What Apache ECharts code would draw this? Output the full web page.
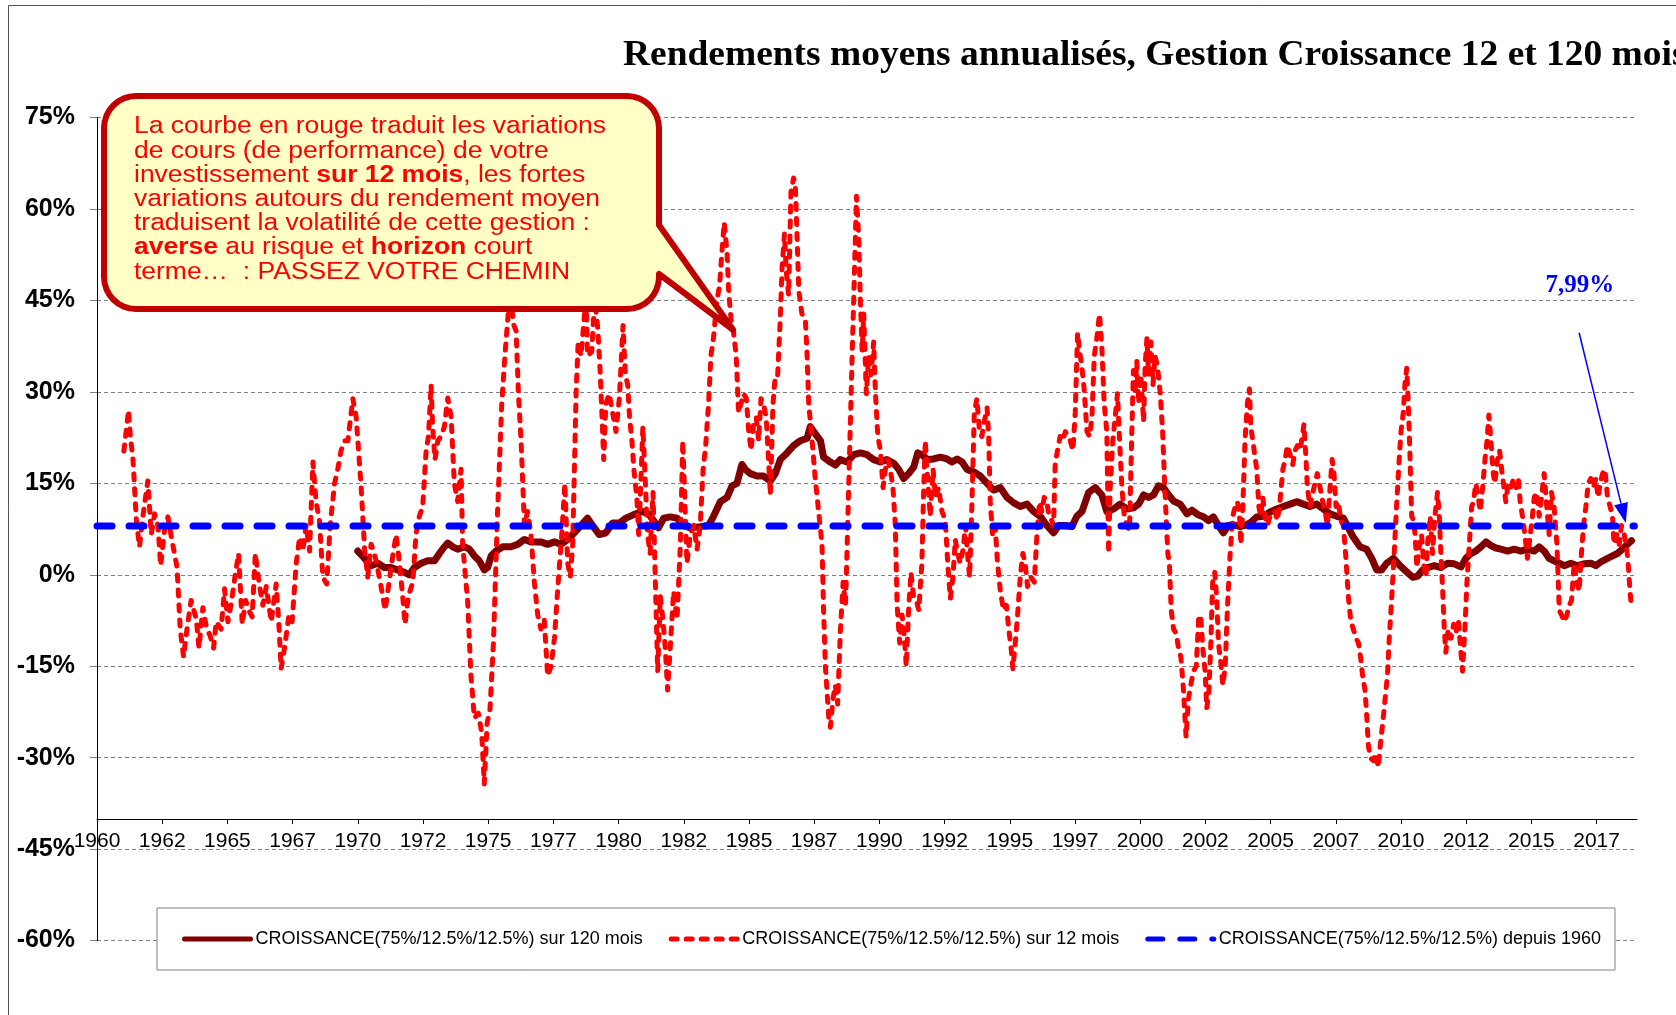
<!DOCTYPE html>
<html>
<head>
<meta charset="utf-8">
<title>Rendements moyens annualisés</title>
<script src="https://cdn.jsdelivr.net/npm/echarts@6/dist/echarts.min.js"></script>
<style>
  html, body { margin: 0; padding: 0; background: #fff; }
  #chart { width: 1676px; height: 1015px; }
</style>
</head>
<body>
<div id="chart"></div>
<script>
// rendement annualisé glissant sur 120 mois (%), [année, valeur]
const roll120 = [
  [1970.0,3.9],[1970.26,2.7],[1970.51,1.5],[1970.77,1.9],[1971.02,1.2],[1971.28,1.2],[1971.53,0.8],[1971.79,0.4],[1971.98,0],
  [1972.17,1.2],[1972.43,1.9],[1972.68,2.3],[1972.94,2.3],[1973.13,3.5],[1973.32,4.6],[1973.45,5.2],[1973.64,4.6],[1973.83,4.2],
  [1974.09,4.6],[1974.28,4.2],[1974.47,3.1],[1974.66,2.3],[1974.85,0.8],[1974.98,1.2],[1975.11,3.1],[1975.30,3.9],[1975.56,4.6],
  [1975.87,4.6],[1976.13,5],[1976.39,5.8],[1976.64,5.4],[1977.02,5.4],[1977.28,5],[1977.54,5.4],[1977.79,5],[1978.05,5.8],
  [1978.30,6.9],[1978.56,8.1],[1978.81,9.3],[1979.0,8.1],[1979.26,6.6],[1979.51,6.9],[1979.77,8.5],[1980.03,8.5],[1980.28,9.3],
  [1980.54,9.8],[1980.90,10.4],[1981.15,10],[1981.34,8.9],[1981.53,7.7],[1981.73,9.3],[1981.98,9.5],[1982.24,9.3],[1982.49,8.1],
  [1982.75,7.7],[1983.13,7.9],[1983.45,8.1],[1983.64,9.6],[1983.90,12],[1984.16,12.7],[1984.35,14.6],[1984.54,15],[1984.73,18.1],
  [1984.86,17.3],[1985.05,16.6],[1985.31,16.2],[1985.56,16.2],[1985.82,15.4],[1986.01,16.6],[1986.20,18.9],[1986.46,20],
  [1986.71,21.2],[1986.97,22],[1987.23,22.4],[1987.35,24.3],[1987.48,23.5],[1987.74,22],[1987.86,19.3],[1988.12,18.5],
  [1988.31,18],[1988.50,18.9],[1988.76,18.5],[1989.02,19.7],[1989.27,20],[1989.53,19.7],[1989.78,18.9],[1990.04,18.5],
  [1990.29,18.9],[1990.55,18.3],[1990.74,17.3],[1990.93,15.8],[1991.12,16.6],[1991.32,17.7],[1991.47,20],[1991.63,19.7],
  [1991.83,18.9],[1992.08,19],[1992.34,19.3],[1992.59,19],[1992.78,18.5],[1992.98,19],[1993.17,18.5],[1993.36,17.3],
  [1993.61,16.9],[1993.87,16.2],[1994.13,15],[1994.38,13.9],[1994.64,14.3],[1994.89,12.7],[1995.15,11.8],[1995.40,11.2],
  [1995.66,11.6],[1995.91,10.4],[1996.17,9.6],[1996.42,8.1],[1996.68,6.9],[1996.87,8.1],[1997.13,8.1],[1997.38,7.9],
  [1997.57,9.6],[1997.77,10.4],[1998.02,13.5],[1998.28,14.3],[1998.53,13.1],[1998.72,10.4],[1998.98,10.8],[1999.23,11.6],
  [1999.49,10.8],[1999.74,11],[1999.94,11.6],[2000.13,13.1],[2000.32,12.7],[2000.51,13.1],[2000.70,14.6],[2000.89,14.3],
  [2001.09,13.1],[2001.28,12.1],[2001.53,11.6],[2001.79,10],[2001.98,10.6],[2002.24,9.8],[2002.43,9.5],[2002.62,8.9],
  [2002.81,9.5],[2003.0,8.1],[2003.19,6.9],[2003.38,8.1],[2003.58,8.2],[2003.83,7.9],[2004.02,8.1],[2004.21,8.5],
  [2004.47,9.5],[2004.73,9.6],[2004.98,10.3],[2005.24,10.8],[2005.49,11.2],[2005.75,11.6],[2006.0,12],[2006.26,11.6],
  [2006.51,11.2],[2006.77,11.6],[2007.02,10.8],[2007.28,10],[2007.54,9.6],[2007.79,9.3],[2007.98,7.7],[2008.17,6.2],
  [2008.43,4.6],[2008.68,4.2],[2008.88,2.7],[2009.07,0.8],[2009.26,0.8],[2009.45,1.9],[2009.71,2.7],[2009.96,1.5],
  [2010.22,0.5],[2010.45,-0.4],[2010.64,-0.2],[2010.83,0.8],[2011.02,1.2],[2011.28,1.5],[2011.53,1.2],[2011.79,1.9],
  [2012.04,1.8],[2012.30,1.3],[2012.49,2.7],[2012.68,3.5],[2012.87,3.9],[2013.07,4.6],[2013.26,5.4],[2013.45,4.8],
  [2013.64,4.4],[2013.83,4.2],[2014.09,3.9],[2014.34,4.2],[2014.60,3.9],[2014.85,4.2],[2015.11,3.9],[2015.30,4.6],
  [2015.49,3.9],[2015.68,2.7],[2015.87,2.3],[2016.07,1.9],[2016.26,1.5],[2016.51,1.9],[2016.77,1.5],[2017.02,1.8],
  [2017.28,1.9],[2017.47,1.5],[2017.66,2.1],[2017.92,2.7],[2018.11,3.1],[2018.30,3.5],[2018.49,4.2],[2018.68,5],[2018.84,5.6]
];

// rendement sur 12 mois glissants (%), [année, valeur]
const roll12 = [
  [1961.03,20.3],[1961.21,27],[1961.28,22.7],[1961.38,18.9],[1961.51,8.9],[1961.63,4.6],[1961.76,9.6],[1961.95,15.4],
  [1962.08,6.6],[1962.21,10],[1962.34,8],[1962.44,1.5],[1962.59,7.3],[1962.72,9.5],[1962.85,6.2],[1963.07,1.2],[1963.19,-8.9],
  [1963.32,-13.5],[1963.45,-8.9],[1963.61,-4.2],[1963.81,-7.3],[1963.91,-12],[1964.06,-5.4],[1964.21,-8.9],[1964.34,-10],
  [1964.47,-12],[1964.57,-7.7],[1964.76,-8.9],[1964.89,-2.3],[1965.02,-7.7],[1965.15,-4.6],[1965.30,0],[1965.43,3.5],
  [1965.57,-8.1],[1965.70,-4.2],[1965.82,-5.8],[1965.95,-6.9],[1966.07,3.5],[1966.21,-1.2],[1966.36,-5],[1966.49,-1.9],
  [1966.68,-7.7],[1966.87,-1.5],[1966.97,-7.7],[1967.06,-15.4],[1967.19,-12],[1967.36,-6.6],[1967.48,-7.7],[1967.64,1.9],
  [1967.77,6.2],[1967.89,3.9],[1968.02,8.1],[1968.15,3.9],[1968.28,18.5],[1968.40,12],[1968.53,8.9],[1968.66,-0.4],
  [1968.81,-1.5],[1968.94,8.1],[1969.11,15],[1969.23,17.3],[1969.36,20.4],[1969.49,22],[1969.62,22],[1969.81,28.9],
  [1969.94,25.8],[1970.13,14.3],[1970.26,4.2],[1970.38,-0.4],[1970.51,5],[1970.64,3.5],[1970.77,0.8],[1970.89,-1.9],
  [1971.05,-5.8],[1971.15,-2.7],[1971.34,3.1],[1971.47,6.6],[1971.60,1.9],[1971.72,-3.5],[1971.81,-8.1],[1971.94,-3.5],
  [1972.11,-1.2],[1972.23,6.6],[1972.36,9.6],[1972.49,11.2],[1972.62,20.4],[1972.71,22.7],[1972.81,31.2],[1972.87,24.3],
  [1972.96,18.9],[1973.07,22],[1973.19,22.7],[1973.32,24.3],[1973.45,29],[1973.58,25.8],[1973.70,15],[1973.83,12],
  [1973.96,17.3],[1974.02,5],[1974.21,-4.2],[1974.34,-16.6],[1974.47,-23.5],[1974.62,-22.7],[1974.75,-25.8],[1974.85,-34.3],
  [1974.96,-24.3],[1975.07,-22],[1975.20,-11.2],[1975.36,10.4],[1975.52,28],[1975.64,35.9],[1975.77,43],[1975.87,45],
  [1975.98,41],[1976.07,40],[1976.16,29.7],[1976.26,22],[1976.39,8.1],[1976.51,10.4],[1976.64,6.6],[1976.77,-1.2],
  [1976.90,-6.6],[1977.02,-8.9],[1977.15,-7.3],[1977.28,-16.6],[1977.41,-15],[1977.54,-10.4],[1977.66,-2.7],[1977.82,6.6],
  [1977.94,15],[1978.05,1.9],[1978.15,-0.4],[1978.24,5],[1978.37,29.7],[1978.45,38.2],[1978.56,35.9],[1978.68,42],
  [1978.75,46],[1978.81,35.9],[1978.97,36.6],[1979.04,42],[1979.09,45],[1979.20,40.5],[1979.30,32.8],[1979.43,18.9],
  [1979.51,28],[1979.64,29.7],[1979.77,26.6],[1979.90,23.5],[1980.03,29],[1980.17,40.9],[1980.26,32.8],[1980.35,31.2],
  [1980.42,25.8],[1980.51,22],[1980.60,16.6],[1980.70,12.7],[1980.77,6.6],[1980.86,15.8],[1980.93,24.3],[1981.02,15.8],
  [1981.11,6.6],[1981.21,3.5],[1981.32,13.5],[1981.41,-1.2],[1981.50,-15.8],[1981.60,-3.5],[1981.70,-7.3],[1981.79,-12],
  [1981.88,-18.9],[1981.98,-12],[1982.11,-2.7],[1982.24,-7.3],[1982.37,5],[1982.46,22],[1982.53,13.5],[1982.62,1.9],
  [1982.75,6.6],[1982.88,8.1],[1983.01,4.2],[1983.13,8.1],[1983.24,17.3],[1983.34,21.2],[1983.45,28.1],[1983.54,35.9],
  [1983.64,38.9],[1983.77,45],[1983.87,47.4],[1983.96,52.8],[1984.05,57.8],[1984.16,52.8],[1984.22,46.6],[1984.31,42],
  [1984.41,39.7],[1984.51,35.9],[1984.60,26.6],[1984.69,28],[1984.80,29.7],[1984.90,28.9],[1984.99,23.5],[1985.08,20.4],
  [1985.18,25],[1985.28,25.8],[1985.37,22],[1985.46,28.9],[1985.56,28],[1985.66,25.8],[1985.75,18.9],[1985.82,13.1],
  [1985.92,28],[1986.01,32.8],[1986.10,32.8],[1986.20,42],[1986.27,50.5],[1986.36,55.9],[1986.43,49.7],[1986.52,45.9],
  [1986.61,62.8],[1986.71,65.1],[1986.78,63.6],[1986.84,55.9],[1986.91,46.6],[1987.03,42.8],[1987.16,42],[1987.23,35.9],
  [1987.29,28.1],[1987.42,22],[1987.54,15.8],[1987.67,10.4],[1987.80,5],[1987.86,-5.8],[1987.93,-15],[1987.99,-18.9],
  [1988.06,-23.5],[1988.12,-25],[1988.22,-20.4],[1988.31,-18.1],[1988.40,-21.2],[1988.50,-9.6],[1988.61,-1.2],[1988.70,-5],
  [1988.76,4.2],[1988.86,20.4],[1988.95,35.1],[1989.04,49],[1989.12,62.1],[1989.21,55.1],[1989.27,45.1],[1989.34,36.6],
  [1989.40,42.8],[1989.50,29.7],[1989.59,35.9],[1989.68,32.8],[1989.78,38.2],[1989.85,29.7],[1989.94,22.7],[1990.04,20.4],
  [1990.14,14.3],[1990.23,17.3],[1990.32,18.9],[1990.42,17.3],[1990.52,14.3],[1990.61,8.1],[1990.68,-5],[1990.78,-11.2],
  [1990.87,-6.6],[1990.96,-10.4],[1991.03,-15],[1991.12,-5.8],[1991.21,0.4],[1991.31,-3.5],[1991.42,-4.2],[1991.51,-5.8],
  [1991.63,1.9],[1991.70,14.3],[1991.76,22],[1991.85,15.8],[1991.95,9.6],[1992.06,17.3],[1992.15,12.7],[1992.27,14.3],
  [1992.40,10.4],[1992.53,8.9],[1992.62,1.9],[1992.72,-3.9],[1992.82,-0.4],[1992.91,5.8],[1993.00,3.5],[1993.10,1.9],
  [1993.21,4.2],[1993.30,8.1],[1993.38,3.5],[1993.46,-0.4],[1993.55,12],[1993.64,26.6],[1993.74,28.9],[1993.84,23.5],
  [1993.93,22.7],[1994.02,25.1],[1994.13,27.4],[1994.19,22.7],[1994.25,12],[1994.34,6.6],[1994.44,8.1],[1994.53,1.9],
  [1994.64,-2.7],[1994.76,-5.8],[1994.87,-5],[1994.96,-8.9],[1995.05,-12],[1995.12,-15.4],[1995.21,-11.2],[1995.30,-6.6],
  [1995.40,-0.4],[1995.50,3.5],[1995.59,1.9],[1995.68,-1.9],[1995.81,-0.4],[1995.94,-1.2],[1996.04,6.6],[1996.14,12],
  [1996.23,10.4],[1996.32,12.7],[1996.42,12],[1996.51,9.6],[1996.61,8.9],[1996.68,8.1],[1996.74,18.1],[1996.83,20.4],
  [1996.93,22.7],[1997.04,22],[1997.13,23.5],[1997.22,22.7],[1997.32,22],[1997.42,20.4],[1997.51,26.6],[1997.60,39.7],
  [1997.68,36.6],[1997.76,34.3],[1997.85,30.5],[1997.96,23.5],[1998.06,22.7],[1998.15,25.8],[1998.24,35.9],[1998.34,38.9],
  [1998.44,42.8],[1998.53,37.4],[1998.62,28.1],[1998.72,23.5],[1998.79,3.5],[1998.85,14.3],[1998.95,22],[1999.04,25.8],
  [1999.13,29.7],[1999.21,22],[1999.30,14.3],[1999.39,9.6],[1999.49,8.1],[1999.59,7.3],[1999.68,23.5],[1999.74,33.5],
  [1999.80,29.7],[1999.87,35.1],[1999.94,28.1],[2000.03,32.8],[2000.13,25.1],[2000.19,34.3],[2000.26,38.9],[2000.32,32.8],
  [2000.41,38.2],[2000.49,31.2],[2000.57,35.9],[2000.66,34.3],[2000.77,29.7],[2000.86,23.5],[2000.93,15.8],[2001.0,8.9],
  [2001.06,3.5],[2001.12,1.9],[2001.19,-5.8],[2001.28,-8.9],[2001.38,-9.6],[2001.47,-12],[2001.56,-13.5],[2001.66,-18.9],
  [2001.76,-26.6],[2001.85,-20.4],[2001.94,-18.1],[2002.04,-15.8],[2002.15,-15],[2002.24,-7.3],[2002.32,-6.6],[2002.40,-12],
  [2002.49,-15.8],[2002.55,-21.9],[2002.63,-19.7],[2002.71,-11.2],[2002.78,-1.2],[2002.86,0.4],[2002.94,-4.2],[2003.0,-11.2],
  [2003.09,-14.3],[2003.17,-18.1],[2003.26,-15],[2003.35,-5],[2003.45,3.5],[2003.55,9.6],[2003.64,11.2],[2003.73,12],
  [2003.81,9.6],[2003.86,5],[2003.93,10.4],[2004.02,22],[2004.11,28.1],[2004.19,30.5],[2004.24,24.3],[2004.32,22],
  [2004.39,19.7],[2004.47,17.3],[2004.55,11.2],[2004.62,9.6],[2004.70,12.7],[2004.79,9.6],[2004.88,8.1],[2004.98,9.6],
  [2005.08,9.6],[2005.17,10.4],[2005.26,8.9],[2005.36,12],[2005.47,17.3],[2005.56,18.9],[2005.64,21.2],[2005.75,19.7],
  [2005.85,18.1],[2005.94,20.4],[2006.03,21.2],[2006.13,20.4],[2006.19,22],[2006.28,24.7],[2006.36,18.9],[2006.41,14.3],
  [2006.51,11.2],[2006.62,13.5],[2006.70,15],[2006.79,16.6],[2006.90,14.3],[2007.0,12],[2007.09,10.4],[2007.18,8.1],
  [2007.28,14.3],[2007.36,18.9],[2007.43,16.6],[2007.51,11.2],[2007.60,12],[2007.69,8.9],[2007.79,8.1],[2007.89,2.7],
  [2007.98,-3.5],[2008.07,-7.3],[2008.17,-8.9],[2008.28,-10.4],[2008.37,-11.2],[2008.45,-13.5],[2008.53,-16.6],[2008.62,-18.9],
  [2008.68,-22.7],[2008.75,-28.1],[2008.84,-30.1],[2008.94,-30.5],[2009.04,-29.3],[2009.13,-31.6],[2009.22,-27.4],
  [2009.30,-24.3],[2009.39,-20.4],[2009.48,-16.6],[2009.55,-10.4],[2009.64,-4.2],[2009.73,2.7],[2009.83,11.2],[2009.92,18.1],
  [2010.0,23.5],[2010.09,26.6],[2010.15,31.2],[2010.22,33.9],[2010.28,28.1],[2010.34,20.4],[2010.41,9.6],[2010.49,8.9],
  [2010.54,6.6],[2010.61,1.2],[2010.70,4.6],[2010.79,6.6],[2010.87,1.9],[2010.96,-0.4],[2011.02,5],[2011.12,9.6],
  [2011.21,3.5],[2011.30,9.6],[2011.40,13.5],[2011.47,9.6],[2011.53,3.5],[2011.60,-2.7],[2011.66,-8.9],[2011.72,-12.7],
  [2011.81,-8.9],[2011.92,-10.4],[2012.02,-8.1],[2012.11,-9.6],[2012.20,-7.3],[2012.27,-11.2],[2012.36,-15.8],[2012.45,-8.9],
  [2012.53,-1.2],[2012.62,5],[2012.71,11.2],[2012.78,12],[2012.87,15],[2012.96,12.7],[2013.04,10.4],[2013.13,14.3],
  [2013.22,18.9],[2013.30,22],[2013.37,26.2],[2013.45,22],[2013.52,17.3],[2013.60,15],[2013.70,18.9],[2013.78,20.4],
  [2013.86,17.3],[2013.93,15],[2014.02,12],[2014.11,15],[2014.21,14.3],[2014.32,15.8],[2014.42,14.3],[2014.50,15.8],
  [2014.57,12],[2014.66,9.6],[2014.75,6.6],[2014.85,2.7],[2014.96,6.6],[2015.04,9.6],[2015.11,12.7],[2015.21,13.5],
  [2015.30,9.6],[2015.39,12.7],[2015.49,16.6],[2015.59,11.2],[2015.68,6.6],[2015.77,13.5],[2015.87,11.2],[2015.98,5],
  [2016.07,-5.8],[2016.16,-6.6],[2016.26,-7.7],[2016.36,-6.6],[2016.45,-5],[2016.54,-4.2],[2016.64,1.9],[2016.74,-1.2],
  [2016.83,-2.7],[2016.92,3.5],[2017.0,8.1],[2017.09,11.2],[2017.18,15],[2017.28,15.8],[2017.38,14.3],[2017.47,15.8],
  [2017.56,12.7],[2017.64,15],[2017.73,16.6],[2017.82,17.3],[2017.92,12.7],[2018.02,11.2],[2018.11,9.6],[2018.17,5],
  [2018.28,6.6],[2018.37,5],[2018.45,8.1],[2018.56,6.6],[2018.66,4.2],[2018.71,1.9],[2018.76,-1.2],[2018.81,-4.2]
];

// rendement moyen depuis 1960 (%)
const avgValue = 7.99;
const avgYears = [1960, 2018.95];

const seriesNames = [
  'CROISSANCE(75%/12.5%/12.5%) sur 120 mois',
  'CROISSANCE(75%/12.5%/12.5%) sur 12 mois',
  'CROISSANCE(75%/12.5%/12.5%) depuis 1960'
];

const dom = document.getElementById('chart');
const myChart = echarts.init(dom);

const sans = 'Liberation Sans, Arial, sans-serif';
const serif = 'Liberation Serif, Times New Roman, serif';

let option = {
  animation: false,
  backgroundColor: '#fff',
  grid: {
    left: 97,
    right: 39,
    top: 117.6,
    bottom: 74.4,
    containLabel: false,
    outerBoundsMode: 'none'
  },
  legend: {
    left: 157,
    top: 908,
    orient: 'horizontal',
    padding: [22, 14, 22, 25],
    itemGap: 26,
    itemWidth: 66,
    itemHeight: 14,
    backgroundColor: '#fff',
    borderColor: '#808080',
    borderWidth: 1,
    borderRadius: 0,
    itemStyle: { color: 'rgba(0,0,0,0)', borderWidth: 0 },
    lineStyle: { width: 5, cap: 'round' },
    textStyle: { fontFamily: sans, fontSize: 18, color: '#000' },
    data: seriesNames
  },
  xAxis: {
    type: 'value',
    min: 1960,
    max: 2019.05,
    interval: 2.5,
    position: 'bottom',
    offset: -121.5,
    axisLine: { onZero: false, lineStyle: { color: '#000', width: 1 } },
    axisTick: { show: true, length: 5, lineStyle: { color: '#000' } },
    splitLine: { show: false },
    axisLabel: {
      margin: 12,
      fontFamily: sans,
      fontSize: 21,
      color: '#000',
      showMaxLabel: false,
      formatter: v => String(Math.floor(v))
    }
  },
  yAxis: {
    type: 'value',
    min: -60,
    max: 75,
    interval: 15,
    axisLine: { show: true, lineStyle: { color: '#000', width: 1 } },
    axisTick: { show: true, length: 7, lineStyle: { color: '#808080' } },
    splitLine: { show: true, lineStyle: { color: '#808080', width: 1, type: [4, 3] } },
    axisLabel: {
      margin: 22,
      fontFamily: sans,
      fontWeight: 'bold',
      fontSize: 25,
      color: '#000',
      formatter: '{value}%'
    }
  },
  series: [
    {
      name: seriesNames[0],
      type: 'line',
      data: roll120,
      symbol: 'none',
      color: '#800000',
      lineStyle: { color: '#800000', width: 7, cap: 'round', join: 'round' },
      z: 2
    },
    {
      name: seriesNames[1],
      type: 'line',
      data: roll12,
      symbol: 'none',
      color: '#ff0000',
      lineStyle: { color: '#ff0000', width: 5, type: [6, 9], cap: 'round', join: 'round' },
      z: 3
    },
    {
      name: seriesNames[2],
      type: 'line',
      data: avgYears.map(y => [y, avgValue]),
      symbol: 'none',
      color: '#0000ff',
      lineStyle: { color: '#0000ff', width: 7, type: [15, 17], cap: 'round' },
      z: 4
    }
  ]
};

myChart.setOption(option, true);

// annotations placed from data coordinates
const px = p => myChart.convertToPixel({ gridIndex: 0 }, p);
const tail = px([1984.39, 40.2]);
const arrowFrom = px([2016.83, 39.7]);
const arrowTo = px([2018.62, 8.5]);
const labelAt = px([2016.86, 47.5]);

// speech bubble outline: rounded box with a tail on its right side
function bubblePoints(x0, y0, x1, y1, r, tTop, tBot, tip) {
  const pts = [];
  const arc = (cx, cy, a0, a1) => {
    for (let i = 0; i <= 8; i++) {
      const a = (a0 + (a1 - a0) * i / 8) * Math.PI / 180;
      pts.push([cx + r * Math.cos(a), cy + r * Math.sin(a)]);
    }
  };
  arc(x1 - r, y0 + r, -90, 0);
  pts.push([x1, tTop], tip, [x1, tBot]);
  arc(x1 - r, y1 - r, 0, 90);
  arc(x0 + r, y1 - r, 90, 180);
  arc(x0 + r, y0 + r, 180, 270);
  return pts;
}
const bubble = bubblePoints(104, 96, 659, 309, 32, 225, 274, tail);

const dx = arrowTo[0] - arrowFrom[0], dy = arrowTo[1] - arrowFrom[1];
const len = Math.sqrt(dx * dx + dy * dy);
const ux = dx / len, uy = dy / len;
const hb = [arrowTo[0] - ux * 20, arrowTo[1] - uy * 20];
const head = [
  [arrowTo[0], arrowTo[1]],
  [hb[0] + uy * 7, hb[1] - ux * 7],
  [hb[0] - uy * 7, hb[1] + ux * 7]
];

const bubbleText =
  'La courbe en rouge traduit les variations\n' +
  'de cours (de performance) de votre\n' +
  'investissement {b|sur 12 mois}, les fortes\n' +
  'variations autours du rendement moyen\n' +
  'traduisent la volatilité de cette gestion :\n' +
  '{b|averse} au risque et {b|horizon} court\n' +
  'terme…  : PASSEZ VOTRE CHEMIN';

myChart.setOption({
  graphic: [
    {
      type: 'rect', silent: true, z: 0,
      shape: { x: 8.5, y: 5.5, width: 1800, height: 1200 },
      style: { fill: 'none', stroke: '#555', lineWidth: 1 }
    },
    {
      type: 'text', silent: true, z: 100,
      x: 623, y: 56, scaleX: 1.07,
      style: {
        text: 'Rendements moyens annualisés, Gestion Croissance 12 et 120 mois',
        fill: '#000',
        font: 'bold 35px ' + serif,
        verticalAlign: 'middle'
      }
    },
    {
      type: 'polygon', silent: true, z: 100,
      shape: { points: bubble },
      style: { fill: '#ffffc6', stroke: '#c00000', lineWidth: 6, lineJoin: 'round' }
    },
    {
      type: 'text', silent: true, z: 101,
      x: 134, y: 115, scaleX: 1.15,
      style: {
        text: bubbleText,
        fill: '#ff0000',
        font: '23px ' + sans,
        lineHeight: 24.2,
        verticalAlign: 'top',
        rich: {
          b: { fill: '#ff0000', fontFamily: sans, fontSize: 23, fontWeight: 'bold', lineHeight: 24.2 }
        }
      }
    },
    {
      type: 'line', silent: true, z: 100,
      shape: { x1: arrowFrom[0], y1: arrowFrom[1], x2: hb[0], y2: hb[1] },
      style: { stroke: '#0000ff', lineWidth: 1.5 }
    },
    {
      type: 'polygon', silent: true, z: 100,
      shape: { points: head },
      style: { fill: '#0000ff' }
    },
    {
      type: 'text', silent: true, z: 100,
      x: labelAt[0], y: labelAt[1],
      style: {
        text: '7,99%',
        fill: '#0000ff',
        font: 'bold 25px ' + serif,
        align: 'center',
        verticalAlign: 'middle'
      }
    }
  ]
});
</script>
</body>
</html>
